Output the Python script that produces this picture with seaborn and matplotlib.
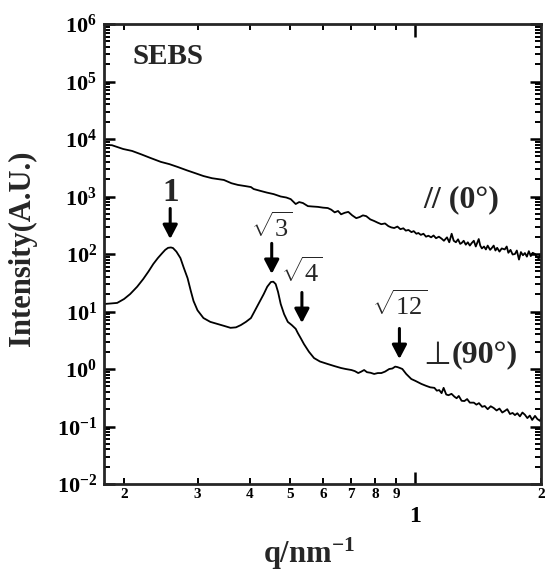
import numpy as np
import pandas as pd
import matplotlib
matplotlib.use("Agg")
import matplotlib.pyplot as plt
import matplotlib.ticker as mticker
import seaborn as sns

# ---------------- data ----------------
q_par = [0.179, 0.187, 0.199, 0.209, 0.220, 0.231, 0.245, 0.257, 0.269, 0.283,
         0.296, 0.310, 0.325, 0.347, 0.362, 0.375, 0.390, 0.403, 0.409, 0.425,
         0.440, 0.457, 0.475, 0.490, 0.502, 0.516, 0.526, 0.537, 0.552, 0.566,
         0.583, 0.600, 0.616, 0.628, 0.640, 0.652, 0.663, 0.676, 0.690, 0.705,
         0.721, 0.735, 0.748, 0.762, 0.779, 0.796, 0.812, 0.828, 0.845, 0.861,
         0.875, 0.889, 0.905, 0.920, 0.935, 0.948, 0.962, 0.978, 0.990, 1.005,
         1.016, 1.030, 1.045, 1.060, 1.074, 1.090, 1.105, 1.120, 1.138, 1.155,
         1.170, 1.190, 1.205, 1.221, 1.235, 1.250, 1.265, 1.280, 1.290, 1.305,
         1.320, 1.335, 1.350, 1.364, 1.380, 1.395, 1.418, 1.430, 1.443, 1.460,
         1.475, 1.490, 1.510, 1.524, 1.540, 1.555, 1.570, 1.590, 1.610, 1.637,
         1.655, 1.670, 1.690, 1.710, 1.732, 1.750, 1.771, 1.790, 1.810, 1.830,
         1.850, 1.870, 1.890, 1.910, 1.935, 1.955, 1.977, 1.990, 2.000]
I_par = [7900, 7800, 6700, 6200, 5400, 4700, 4000, 3650, 3260, 2850,
         2550, 2270, 2080, 1940, 1700, 1590, 1520, 1460, 1350, 1250,
         1170, 1100, 1000, 960, 900, 740, 800, 770, 680, 670,
         660, 640, 630, 590, 530, 560, 490, 520, 540, 470,
         420, 440, 470, 455, 400, 375, 350, 330, 340, 305,
         290, 283, 300, 270, 280, 255, 262, 240, 250, 225,
         232, 215, 225, 200, 208, 195, 210, 188, 200, 185,
         170, 195, 160, 225, 170, 160, 180, 150, 155, 170,
         145, 160, 140, 155, 170, 135, 182, 140, 125, 135,
         120, 140, 118, 127, 140, 115, 128, 110, 125, 120,
         135, 105, 118, 98, 100, 115, 80, 108, 95, 104,
         90, 112, 92, 105, 100, 88, 84, 98, 92]

q_perp = [0.179, 0.186, 0.1925, 0.200, 0.2068, 0.215, 0.2223, 0.229, 0.235, 0.241,
          0.247, 0.251, 0.255, 0.259, 0.262, 0.267, 0.273, 0.278, 0.284, 0.289,
          0.2935, 0.300, 0.310, 0.322, 0.335, 0.348, 0.360, 0.371, 0.381, 0.392,
          0.403, 0.409, 0.420, 0.4325, 0.441, 0.450, 0.456, 0.462, 0.468, 0.475,
          0.484, 0.494, 0.505, 0.516, 0.522, 0.531, 0.540, 0.555, 0.571, 0.590,
          0.616, 0.640, 0.663, 0.680, 0.702, 0.715, 0.729, 0.741, 0.753, 0.765,
          0.780, 0.796, 0.812, 0.828, 0.845, 0.865, 0.880, 0.894, 0.905, 0.918,
          0.930, 0.950, 0.977, 1.000, 1.033, 1.060, 1.085, 1.110, 1.125, 1.140,
          1.155, 1.168, 1.185, 1.200, 1.220, 1.240, 1.255, 1.270, 1.290, 1.310,
          1.330, 1.350, 1.380, 1.400, 1.420, 1.445, 1.466, 1.490, 1.515, 1.540,
          1.565, 1.590, 1.615, 1.637, 1.660, 1.685, 1.710, 1.732, 1.755, 1.780,
          1.805, 1.830, 1.855, 1.880, 1.905, 1.935, 1.960, 1.990, 2.000]
I_perp = [13.5, 13.8, 14.1, 16.5, 20.1, 27, 36.7, 50, 67, 85,
          104, 118, 128, 130, 127, 110, 85, 58, 38, 23,
          15.2, 10.5, 7.7, 6.6, 6.07, 5.6, 5.2, 5.3, 5.8, 6.6,
          7.7, 9.4, 13.5, 20.1, 27, 32.6, 33, 30, 22, 13.5,
          9, 6.6, 5.8, 5.0, 4.23, 3.4, 2.72, 2.0, 1.55, 1.35,
          1.22, 1.12, 1.04, 1.0, 0.96, 0.92, 0.85, 0.90, 0.96, 0.88,
          0.86, 0.82, 0.85, 0.85, 0.90, 1.0, 1.02, 1.10, 1.08, 1.04,
          1.0, 0.82, 0.67, 0.62, 0.55, 0.51, 0.48, 0.47, 0.42, 0.43,
          0.38, 0.47, 0.36, 0.35, 0.37, 0.33, 0.31, 0.34, 0.28, 0.277,
          0.30, 0.26, 0.26, 0.24, 0.255, 0.22, 0.227, 0.20, 0.225, 0.21,
          0.19, 0.205, 0.175, 0.186, 0.20, 0.165, 0.172, 0.158, 0.17, 0.15,
          0.175, 0.16, 0.14, 0.155, 0.13, 0.153, 0.135, 0.125, 0.14]

peak_labels = [r"$\mathbf{1}$", r"$\sqrt{3}$", r"$\sqrt{4}$", r"$\sqrt{12}$"]
peak_q = [0.258, 0.452, 0.534, 0.915]
peak_tip_I = [182, 45, 6.3, 1.49]

x_minor_ticks = [0.2, 0.3, 0.4, 0.5, 0.6, 0.7, 0.8, 0.9, 2.0]
x_minor_labels = ["2", "3", "4", "5", "6", "7", "8", "9", "2"]
x_major_ticks = [1.0]
x_major_labels = ["1"]
y_major_ticks = [1e-2, 1e-1, 1e0, 1e1, 1e2, 1e3, 1e4, 1e5, 1e6]
y_major_labels = [r"$\mathbf{10^{-2}}$", r"$\mathbf{10^{-1}}$", r"$\mathbf{10^{0}}$",
                  r"$\mathbf{10^{1}}$", r"$\mathbf{10^{2}}$", r"$\mathbf{10^{3}}$",
                  r"$\mathbf{10^{4}}$", r"$\mathbf{10^{5}}$", r"$\mathbf{10^{6}}$"]

# ---------------- style ----------------
sns.set_style("ticks")
plt.rcParams["font.family"] = ["Liberation Serif", "DejaVu Serif", "DejaVu Sans"]
plt.rcParams["font.weight"] = "bold"
plt.rcParams["mathtext.fontset"] = "custom"
plt.rcParams["mathtext.rm"] = "Liberation Serif:normal"
plt.rcParams["mathtext.it"] = "Liberation Serif:italic:normal"
plt.rcParams["mathtext.bf"] = "Liberation Serif:bold"

df_par = pd.DataFrame({"q": q_par, "I": I_par})
df_perp = pd.DataFrame({"q": q_perp, "I": I_perp})

fig = plt.figure(figsize=(5.46, 5.78), dpi=100)
ax = fig.add_axes([104 / 546, 1 - 484 / 578, 437 / 546, 460 / 578])

sns.lineplot(data=df_par, x="q", y="I", ax=ax, color="black", lw=1.3,
             estimator=None, sort=False)
sns.lineplot(data=df_perp, x="q", y="I", ax=ax, color="black", lw=1.3,
             estimator=None, sort=False)

ax.set_xscale("log")
ax.set_yscale("log")
ax.set_xlim(0.179, 2.0)
ax.set_ylim(1e-2, 1e6)

ax.xaxis.set_major_locator(mticker.FixedLocator(x_major_ticks))
ax.xaxis.set_major_formatter(mticker.FixedFormatter(x_major_labels))
ax.xaxis.set_minor_locator(mticker.FixedLocator(x_minor_ticks))
ax.xaxis.set_minor_formatter(mticker.FixedFormatter(x_minor_labels))

ax.yaxis.set_major_locator(mticker.FixedLocator(y_major_ticks))
ax.yaxis.set_major_formatter(mticker.FixedFormatter(y_major_labels))
ax.yaxis.set_minor_locator(mticker.LogLocator(base=10, subs=np.arange(2, 10), numticks=20))
ax.yaxis.set_minor_formatter(mticker.NullFormatter())

for s in ax.spines.values():
    s.set_linewidth(2.0)
    s.set_visible(True)

ax.tick_params(axis="both", which="both", direction="in", top=True, right=True,
               colors="black")
ax.tick_params(axis="y", which="major", length=8, width=1.8, labelsize=16, pad=5)
ax.tick_params(axis="y", which="minor", length=4, width=1.4)
ax.tick_params(axis="x", which="major", length=9, width=1.8, labelsize=17, pad=16)
ax.tick_params(axis="x", which="minor", length=4.5, width=1.4, labelsize=11, pad=3)
for lab in ax.get_xticklabels(which="both"):
    lab.set_fontweight("bold")

ax.set_xlabel(r"$\mathbf{q/nm^{-1}}$", fontsize=22, va="center")
ax.xaxis.set_label_coords(0.47, -0.153)
ax.set_ylabel("Intensity(A.U.)", fontsize=22, fontweight="bold", va="center")
ax.yaxis.set_label_coords(-0.186, 0.513)

# ---------------- annotations ----------------
ax.text(0.066, 0.93, "SEBS", transform=ax.transAxes, fontsize=21,
        fontweight="bold", ha="left", va="center")
ax.text(0.817, 0.617, "// (0°)", transform=ax.transAxes, fontsize=23,
        fontweight="bold", ha="center", va="center")
ax.text(0.762, 0.280, "⊥", transform=ax.transAxes, fontsize=23,
        fontweight="normal", ha="center", va="center",
        family=["DejaVu Sans", "DejaVu Serif"])
ax.text(0.796, 0.280, "(90°)", transform=ax.transAxes, fontsize=23,
        fontweight="bold", ha="left", va="center")

label_offsets = [33, 34, 37, 39]
label_sizes = [24, 19, 19, 19]
for lab, q, tip, off, fs in zip(peak_labels, peak_q, peak_tip_I, label_offsets, label_sizes):
    ax.annotate("", xy=(q, tip), xytext=(0, 22), textcoords="offset points",
                arrowprops=dict(arrowstyle="-|>,head_length=0.42,head_width=0.22",
                                mutation_scale=20, lw=2.2, color="black",
                                shrinkA=0, shrinkB=0))
    ax.annotate(lab, xy=(q, tip), xytext=(0, off), textcoords="offset points",
                ha="center", va="center", fontsize=fs, fontweight="normal")

fig.savefig("out.png", dpi=100, facecolor="white")
